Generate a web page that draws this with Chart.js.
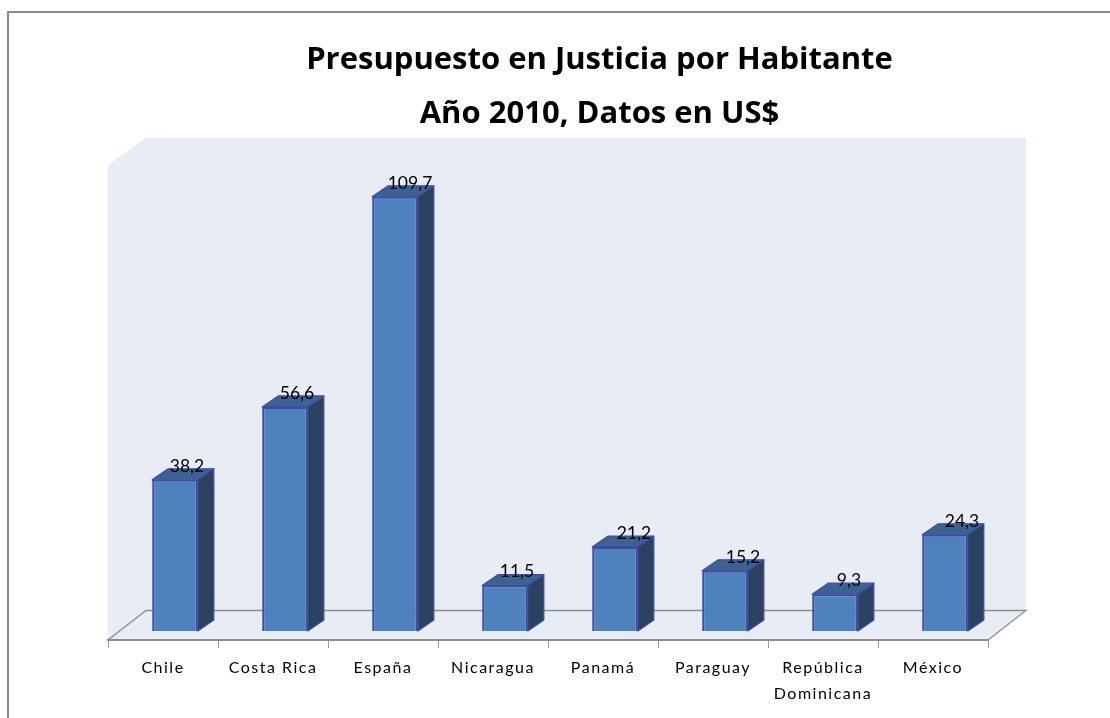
<!DOCTYPE html>
<html><head><meta charset="utf-8">
<style>html,body{margin:0;padding:0;background:#fff}canvas{display:block}</style>
<script src="https://cdn.jsdelivr.net/npm/chart.js@4"></script>
</head><body>
<canvas id="c" width="1110" height="718"></canvas>
<script>
const categories = ['Chile','Costa Rica','España','Nicaragua','Panamá','Paraguay',['República','Dominicana'],'México'];
const values = [38.2,56.6,109.7,11.5,21.2,15.2,9.3,24.3];
const valueLabels = ['38,2','56,6','109,7','11,5','21,2','15,2','9,3','24,3'];
const titleLines = ['Presupuesto en Justicia por Habitante','Año 2010, Datos en US$'];

const FONT = 'Lato, sans-serif';
const labelShift = [12,12,15,12,19,18,14,17];
const BAR_DX = 12, BAR_DY = -9;   // bars stand part way into the floor
const SIDE_DX = 16, SIDE_DY = -11; // bar depth
const WALL_DX = 38, WALL_DY = -27;

const scene = {
  id:'scene',
  beforeDraw(chart){
    const {ctx,chartArea:a} = chart;
    ctx.save();
    ctx.strokeStyle='#8A8A8A'; ctx.lineWidth=2;
    ctx.beginPath(); ctx.moveTo(8,718); ctx.lineTo(8,12); ctx.lineTo(1110,12); ctx.stroke();
    ctx.fillStyle='#E8ECF4';
    ctx.beginPath();
    ctx.moveTo(a.left,a.top);
    ctx.lineTo(a.left+WALL_DX,a.top+WALL_DY);
    ctx.lineTo(a.right+WALL_DX,a.top+WALL_DY);
    ctx.lineTo(a.right+WALL_DX,a.bottom-30);
    ctx.lineTo(a.right,a.bottom);
    ctx.lineTo(a.left,a.bottom);
    ctx.closePath(); ctx.fill();
    ctx.strokeStyle='#8C8C8C'; ctx.lineWidth=1.3;
    ctx.beginPath();
    ctx.moveTo(a.left,a.bottom);
    ctx.lineTo(a.left+WALL_DX,a.bottom-29.5);
    ctx.lineTo(a.right+WALL_DX,a.bottom-29.5);
    ctx.lineTo(a.right,a.bottom);
    ctx.stroke();
    ctx.restore();
    ctx.letterSpacing='1.5px';
  },
  afterLayout(chart){
    const t = chart.titleBlock;
    t.left = 208; t.right = 991;
    if(!t._wrapped){
      const orig = t.draw;
      t.draw = function(){
        const c = chart.ctx, prev = c.letterSpacing;
        c.letterSpacing='0px';
        orig.apply(t,arguments);
        c.letterSpacing=prev;
      };
      t._wrapped = true;
    }
  },
  beforeDatasetDraw(chart){
    const {ctx} = chart;
    ctx.save();
    ctx.translate(BAR_DX,BAR_DY);
    chart.getDatasetMeta(0).data.forEach(b=>{
      const l=b.x-b.width/2, r=b.x+b.width/2, t=b.y, bt=b.base;
      ctx.lineWidth=1.2; ctx.strokeStyle='#3F4AA8'; ctx.lineJoin='round';
      ctx.fillStyle='#2A4260';
      ctx.beginPath();
      ctx.moveTo(r,t); ctx.lineTo(r+SIDE_DX,t+SIDE_DY); ctx.lineTo(r+SIDE_DX,bt+SIDE_DY); ctx.lineTo(r,bt); ctx.closePath();
      ctx.fill(); ctx.stroke();
      ctx.fillStyle='#3B6290';
      ctx.beginPath();
      ctx.moveTo(l,t); ctx.lineTo(l+SIDE_DX,t+SIDE_DY); ctx.lineTo(r+SIDE_DX,t+SIDE_DY); ctx.lineTo(r,t); ctx.closePath();
      ctx.fill(); ctx.stroke();
    });
  },
  afterDatasetDraw(chart){
    chart.ctx.restore();
  },
  afterDatasetsDraw(chart){
    const {ctx} = chart;
    ctx.save();
    ctx.font='17.5px '+FONT; ctx.fillStyle='#000';
    ctx.textAlign='center'; ctx.textBaseline='alphabetic';
    ctx.letterSpacing='0px';
    chart.getDatasetMeta(0).data.forEach((b,i)=>{
      ctx.fillText(valueLabels[i], b.x+BAR_DX+labelShift[i], b.y+BAR_DY-8);
    });
    ctx.restore();
  }
};

new Chart(document.getElementById('c'),{
  type:'bar',
  data:{labels:categories,datasets:[{
    data:values,
    backgroundColor:'#4F81BD',
    borderColor:'#3F4AA8',
    borderWidth:2,
    barPercentage:0.415,
    categoryPercentage:1
  }]},
  plugins:[scene],
  options:{
    responsive:false,animation:false,
    layout:{padding:{left:108,right:122,top:0,bottom:0}},
    plugins:{
      legend:{display:false},tooltip:{enabled:false},
      title:{display:true,text:titleLines,color:'#000',
        font:{family:'"Open Sans", sans-serif',size:31,weight:'bold',lineHeight:1.742},
        padding:{top:33,bottom:24}}
    },
    scales:{
      x:{
        afterFit(s){s.height=78;},
        grid:{display:true,offset:true,drawOnChartArea:false,drawTicks:true,tickLength:8,color:'#999999'},
        border:{display:true,color:'#8C8C8C',width:2},
        ticks:{color:'#000',font:{family:FONT,size:16,lineHeight:1.6},padding:7,maxRotation:0,autoSkip:false}
      },
      y:{display:false,min:0,max:120}
    }
  }
});
</script>
</body></html>
